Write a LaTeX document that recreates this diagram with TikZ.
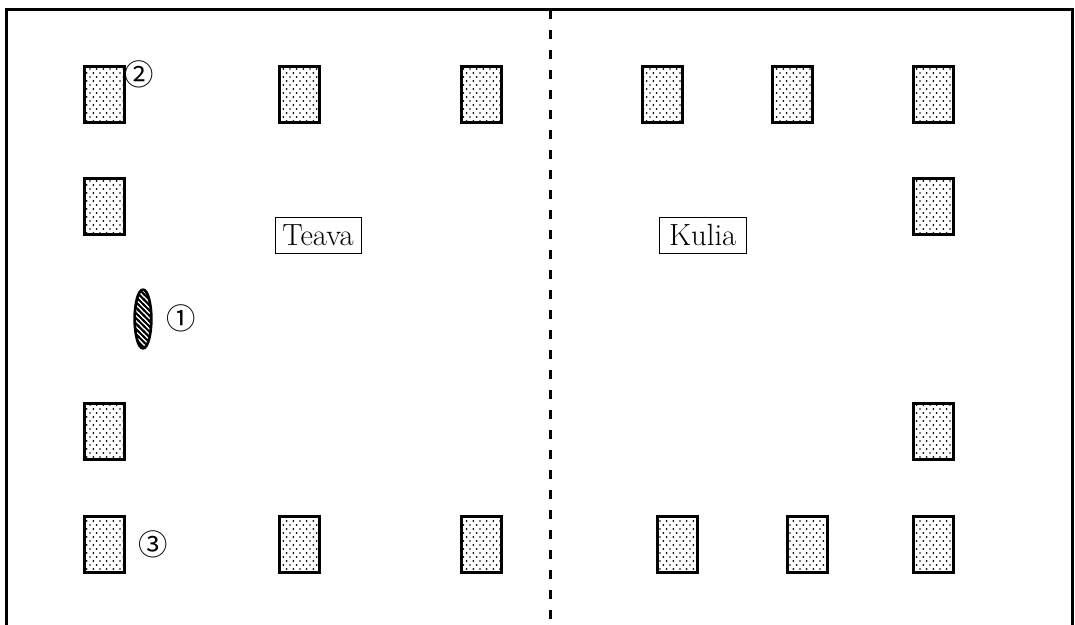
\documentclass[tikz,border=0pt]{standalone}
\usepackage{fontspec}
\usetikzlibrary{patterns,shapes.geometric}
\newfontfamily\circfont{Noto Sans CJK JP}
\pgfdeclarepatternformonly{mydots}{\pgfqpoint{-1pt}{-1pt}}{\pgfqpoint{6pt}{7pt}}{\pgfqpoint{5pt}{6pt}}{%
  \pgfpathcircle{\pgfqpoint{0pt}{0pt}}{0.7pt}%
  \pgfpathcircle{\pgfqpoint{2.5pt}{3pt}}{0.7pt}%
  \pgfusepath{fill}}
\pgfdeclarepatternformonly{mystripes}{\pgfqpoint{-1pt}{-1pt}}{\pgfqpoint{5pt}{5pt}}{\pgfqpoint{4pt}{4pt}}{%
  \pgfsetlinewidth{1.5pt}%
  \pgfpathmoveto{\pgfqpoint{-1pt}{5pt}}%
  \pgfpathlineto{\pgfqpoint{5pt}{-1pt}}%
  \pgfusepath{stroke}}
\tikzset{
  seat/.style={draw, line width=2.25pt, rectangle, minimum width=30pt, minimum height=42pt, inner sep=0pt, pattern=mydots, pattern color=black},
  roomlabel/.style={draw, line width=0.6pt, rectangle, minimum height=27pt, inner sep=0pt, font=\fontsize{23}{27}\selectfont},
  circnum/.style={inner sep=0pt, font=\circfont\fontsize{22}{26}\selectfont},
  wall/.style={line width=2.25pt},
}
\begin{document}
\begin{tikzpicture}[x=0.75pt,y=-0.75pt]
\useasboundingbox (0,0) rectangle (1075,625);
% frame
\coordinate (bl) at (6.5,626);
\coordinate (tl) at (6.5,9.5);
\coordinate (tr) at (1072,9.5);
\coordinate (br) at (1072,626);
\draw[wall, line join=miter] (bl) -- (tl) -- (tr) -- (br);
\coordinate (dtop) at (550,9.5);
\coordinate (dbot) at (550,626);
\draw[line width=2.25pt, dash pattern=on 6.75pt off 8.25pt] (dtop) -- (dbot);
% left room seats
\node[seat] (a1) at (104.5,94.5) {};
\node[seat] (a2) at (299.7,94.5) {};
\node[seat] (a3) at (481.3,94.5) {};
\node[seat] (a4) at (104.5,206.5) {};
\node[seat] (a5) at (104.5,431.5) {};
\node[seat] (a6) at (104.5,544) {};
\node[seat] (a7) at (299.7,544) {};
\node[seat] (a8) at (481.3,544) {};
% right room seats
\node[seat] (b1) at (662.3,94.5) {};
\node[seat] (b2) at (792,94.5) {};
\node[seat] (b3) at (933,94.5) {};
\node[seat] (b4) at (933,206.5) {};
\node[seat] (b5) at (933,431.5) {};
\node[seat] (b6) at (677.3,544) {};
\node[seat] (b7) at (807,544) {};
\node[seat] (b8) at (933,544) {};
% ellipse object
\node[draw, ellipse, line width=2pt, minimum width=12.5pt, minimum height=44pt, inner sep=0pt, pattern=mystripes] (e1) at (143,319) {};
% labels
\node[circnum] (n1) at (181,318.5) {①};
\node[circnum] (n2) at (138.7,74) {②};
\node[circnum] (n3) at (152.7,544.5) {③};
\node[roomlabel, minimum width=64.5pt] (teava) at (318,235.5) {Teava};
\node[roomlabel, minimum width=65pt] (kulia) at (702.7,235) {Kulia};
\end{tikzpicture}
\end{document}
